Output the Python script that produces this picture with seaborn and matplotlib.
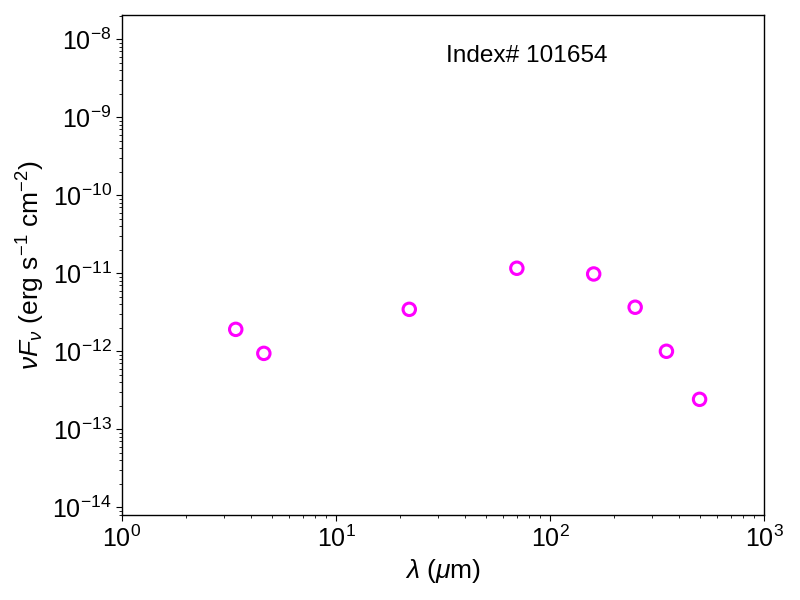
import matplotlib
matplotlib.use("Agg")
import matplotlib.pyplot as plt
import seaborn as sns
import pandas as pd

wavelength_um = [3.4, 4.6, 22, 70, 160, 250, 350, 500]
nuFnu = [1.91e-12, 9.4e-13, 3.45e-12, 1.16e-11, 9.8e-12, 3.67e-12, 1.0e-12, 2.42e-13]
label_text = "Index# 101654"

sns.set_style("ticks")
plt.rcParams['font.family'] = ['Liberation Sans', 'DejaVu Sans']
plt.rcParams['mathtext.fontset'] = 'custom'
plt.rcParams['mathtext.rm'] = 'Liberation Sans'
plt.rcParams['mathtext.it'] = 'Liberation Sans:italic'
plt.rcParams['mathtext.bf'] = 'Liberation Sans:bold'
plt.rcParams['xtick.direction'] = 'out'
plt.rcParams['ytick.direction'] = 'out'
plt.rcParams['text.color'] = 'black'
plt.rcParams['axes.labelcolor'] = 'black'
plt.rcParams['xtick.color'] = 'black'
plt.rcParams['ytick.color'] = 'black'
plt.rcParams['xtick.labelcolor'] = 'black'
plt.rcParams['ytick.labelcolor'] = 'black'

df = pd.DataFrame({"wl": wavelength_um, "f": nuFnu})

fig = plt.figure(figsize=(8, 6), dpi=100)
ax = fig.add_axes([0.1525, 0.1417, 0.8025, 0.8333])
sns.scatterplot(data=df, x="wl", y="f", ax=ax, marker="o", s=80,
                facecolor="none", edgecolor="#ff00ff", linewidth=2.2)
ax.set_xscale("log")
ax.set_yscale("log")
ax.set_xlim(1, 1000)
ax.set_ylim(7.96e-15, 2.05e-8)
for s in ax.spines.values():
    s.set_visible(True)
    s.set_color("black")
    s.set_linewidth(1.0)
ax.tick_params(axis="both", which="major", labelsize=18, length=4, color="black")
ax.tick_params(axis="both", which="minor", length=2, color="black")
ax.set_xlabel(r"$\lambda$ ($\mu$m)", fontsize=19)
ax.set_ylabel(r"$\nu F_\nu$ (erg s$^{-1}$ cm$^{-2}$)", fontsize=19)
ax.text(0.505, 0.918, label_text, transform=ax.transAxes, fontsize=17.6,
        ha="left", va="center")
fig.savefig("out.png", dpi=100)
